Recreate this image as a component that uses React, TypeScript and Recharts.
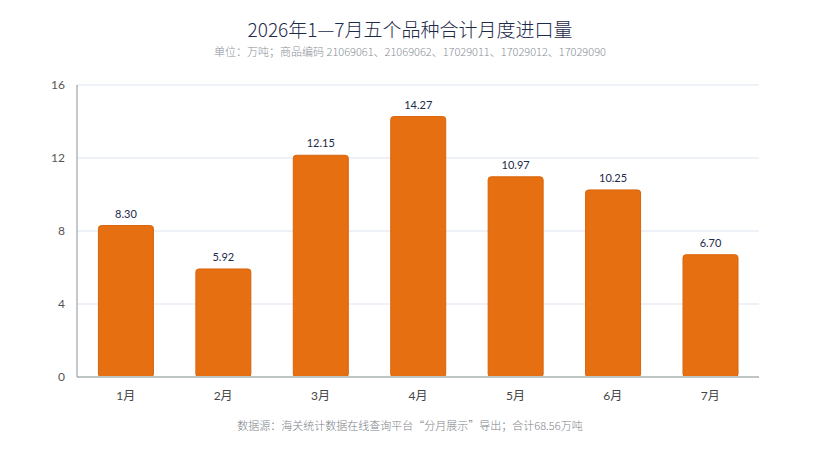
import { BarChart, Bar, XAxis, YAxis, CartesianGrid, LabelList } from "recharts";

const months = ["1月", "2月", "3月", "4月", "5月", "6月", "7月"];
const imports = [8.3, 5.92, 12.15, 14.27, 10.97, 10.25, 6.7];
const yTicks = [0, 4, 8, 12, 16];

const data = months.map((m, i) => ({ month: m, value: imports[i] }));

const font = "Lato, 'Noto Sans CJK SC', sans-serif";
const cjk = "'Noto Sans CJK SC', sans-serif";

export default function App() {
  return (
    <div style={{ position: "absolute", left: 0, top: 0, width: 820, height: 461, background: "#fff", fontFamily: font }}>
      <div style={{ position: "absolute", top: 15, width: 820, textAlign: "center", fontSize: 19, color: "#1d2a4a", fontFamily: cjk, fontWeight: 300 }}>
        2026年1—7月五个品种合计月度进口量
      </div>
      <div style={{ position: "absolute", top: 43, width: 820, textAlign: "center", fontSize: 11, color: "#8a8f96", fontFamily: cjk, fontWeight: 300 }}>
        单位：万吨；商品编码 21069061、21069062、17029011、17029012、17029090
      </div>
      <BarChart
        width={820}
        height={461}
        data={data}
        margin={{ top: 85, right: 61, bottom: 54, left: 0 }}
        barCategoryGap="22%"
      >
        <CartesianGrid vertical={false} stroke="#dde4f1" />
        <XAxis
          dataKey="month"
          tickLine={false}
          axisLine={{ stroke: "#bfc4c4", strokeWidth: 2 }}
          tick={{ fill: "#444", fontSize: 12, fontFamily: font }}
          dy={6}
          height={30}
        />
        <YAxis
          width={77}
          domain={[0, 16]}
          ticks={yTicks}
          tickLine={false}
          axisLine={{ stroke: "#8a9299" }}
          tick={{ fill: "#555", fontSize: 12, fontFamily: font }}
          dx={-4}
        />
        <Bar dataKey="value" fill="#e67011" stroke="#d9640c" strokeWidth={1} radius={3} isAnimationActive={false}>
          <LabelList
            dataKey="value"
            position="top"
            offset={8}
            formatter={(v: any) => Number(v).toFixed(2)}
            style={{ fill: "#1d2a4a", fontSize: 11, fontFamily: font }}
          />
        </Bar>
      </BarChart>
      <div style={{ position: "absolute", top: 417, width: 820, textAlign: "center", fontSize: 11, color: "#7d8288", fontFamily: cjk, fontWeight: 300 }}>
        数据源：海关统计数据在线查询平台“分月展示”导出；合计68.56万吨
      </div>
    </div>
  );
}
